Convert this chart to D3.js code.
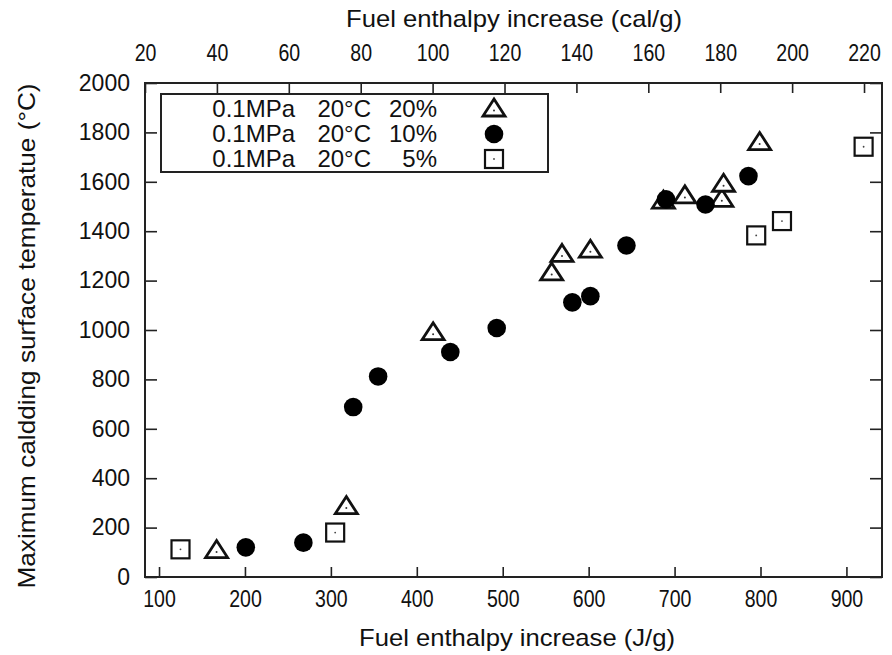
<!DOCTYPE html>
<html>
<head>
<meta charset="utf-8">
<script src="https://cdn.jsdelivr.net/npm/d3@7"></script>
<style>
  body { margin: 0; background: #fff; }
  text { font-family: "Liberation Sans", Arial, sans-serif; fill: #111; }
</style>
</head>
<body>
<div id="chart"></div>
<script>
// data (J/g, deg C)
var tri20J  = [167, 318, 419, 557, 569, 602, 687, 712, 755, 757, 799];
var tri20T  = [107, 285, 989, 1231, 1306, 1323, 1522, 1543, 1529, 1590, 1759];
var circ10J = [201, 268, 326, 355, 439, 493, 581, 602, 644, 690, 736, 786];
var circ10T = [120, 139, 688, 812, 911, 1008, 1112, 1137, 1342, 1529, 1508, 1623];
var sq5J    = [125, 305, 795, 825, 920];
var sq5T    = [112, 180, 1383, 1441, 1742];

var xTicks   = [100, 200, 300, 400, 500, 600, 700, 800, 900];
var calTicks = [20, 40, 60, 80, 100, 120, 140, 160, 180, 200, 220];
var yTicks   = [0, 200, 400, 600, 800, 1000, 1200, 1400, 1600, 1800, 2000];
var legendLabels = [["0.1MPa", "20\u00b0C", "20%"], ["0.1MPa", "20\u00b0C", "10%"], ["0.1MPa", "20\u00b0C", "5%"]];

var CAL = 4.184;

var margin = {top: 83, right: 10, bottom: 78, left: 145};
var width = 892 - margin.left - margin.right;
var height = 655 - margin.top - margin.bottom;

var svg = d3.select("#chart").append("svg")
  .attr("width", 892)
  .attr("height", 655);

var g = svg.append("g")
  .attr("transform", "translate(" + margin.left + "," + margin.top + ")");

var x = d3.scaleLinear().domain([20 * CAL, 225 * CAL]).range([0, width]);
var xc = d3.scaleLinear().domain([20, 225]).range([0, width]);
var y = d3.scaleLinear().domain([0, 2000]).range([height, 0]);

function styleAxis(sel) {
  sel.select(".domain").remove();
  sel.selectAll(".tick line").attr("stroke", "#222").attr("stroke-width", 1.6);
  sel.selectAll(".tick text").attr("font-size", "23px").attr("fill", "#111");
}

var xAxis = g.append("g")
  .attr("transform", "translate(0," + height + ")")
  .call(d3.axisBottom(x).tickValues(xTicks).tickSize(-10).tickPadding(14))
  .call(styleAxis);
xAxis.selectAll(".tick text").attr("transform", "scale(0.85,1)");

var xcAxis = g.append("g")
  .call(d3.axisTop(xc).tickValues(calTicks).tickSize(-10).tickPadding(22))
  .call(styleAxis);
xcAxis.selectAll(".tick text").attr("transform", "scale(0.85,1)");

g.append("g")
  .call(d3.axisLeft(y).tickValues(yTicks).tickSize(-12).tickPadding(15).tickFormat(d3.format("d")))
  .call(styleAxis);

g.append("g")
  .attr("transform", "translate(" + width + ",0)")
  .call(d3.axisRight(y).tickValues(yTicks).tickSize(-12).tickFormat(""))
  .call(styleAxis);

g.append("rect")
  .attr("width", width)
  .attr("height", height)
  .attr("fill", "none")
  .attr("stroke", "#222")
  .attr("stroke-width", 2);

// axis titles
svg.append("text")
  .attr("x", 514).attr("y", 27)
  .attr("text-anchor", "middle")
  .attr("font-size", "24px")
  .attr("textLength", 336).attr("lengthAdjust", "spacingAndGlyphs")
  .text("Fuel enthalpy increase (cal/g)");

svg.append("text")
  .attr("x", 517).attr("y", 646)
  .attr("text-anchor", "middle")
  .attr("font-size", "24px")
  .attr("textLength", 316).attr("lengthAdjust", "spacingAndGlyphs")
  .text("Fuel enthalpy increase (J/g)");

svg.append("text")
  .attr("transform", "translate(35,336) rotate(-90)")
  .attr("text-anchor", "middle")
  .attr("font-size", "24px")
  .attr("textLength", 505).attr("lengthAdjust", "spacingAndGlyphs")
  .text("Maximum caldding surface temperatue (\u00b0C)");

// markers
var triPath = "M0,-10L11,7L-11,7Z";

function drawTri(sel) {
  sel.append("path").attr("d", triPath)
    .attr("fill", "#fff").attr("stroke", "#111").attr("stroke-width", 2.8)
    .attr("stroke-linejoin", "miter");
  sel.append("circle").attr("r", 1).attr("cy", 1.5).attr("fill", "#333");
}
function drawCirc(sel) {
  sel.append("circle").attr("r", 9.3).attr("fill", "#000");
}
function drawSq(sel) {
  sel.append("rect").attr("x", -9).attr("y", -9).attr("width", 18).attr("height", 18)
    .attr("fill", "#fff").attr("stroke", "#111").attr("stroke-width", 2.2);
  sel.append("circle").attr("r", 0.9).attr("fill", "#444");
}

var tri = tri20J.map(function(d, i) { return {j: d, t: tri20T[i]}; });
var circ = circ10J.map(function(d, i) { return {j: d, t: circ10T[i]}; });
var sq = sq5J.map(function(d, i) { return {j: d, t: sq5T[i]}; });

g.selectAll(".tri").data(tri).enter().append("g")
  .attr("class", "tri")
  .attr("transform", function(d) { return "translate(" + x(d.j) + "," + y(d.t) + ")"; })
  .call(drawTri);

g.selectAll(".circ").data(circ).enter().append("g")
  .attr("class", "circ")
  .attr("transform", function(d) { return "translate(" + x(d.j) + "," + y(d.t) + ")"; })
  .call(drawCirc);

g.selectAll(".sq").data(sq).enter().append("g")
  .attr("class", "sq")
  .attr("transform", function(d) { return "translate(" + x(d.j) + "," + y(d.t) + ")"; })
  .call(drawSq);

// legend
var legend = svg.append("g").attr("transform", "translate(161,94)");
legend.append("rect")
  .attr("width", 387).attr("height", 78)
  .attr("fill", "#fff").attr("stroke", "#222").attr("stroke-width", 2);

var drawers = [drawTri, drawCirc, drawSq];
legendLabels.forEach(function(lab, i) {
  var row = legend.append("g").attr("transform", "translate(0," + (14 + i * 25) + ")");
  row.append("text").attr("x", 134).attr("dy", "0.36em").attr("text-anchor", "end")
    .attr("font-size", "24px").text(lab[0]);
  row.append("text").attr("x", 210).attr("dy", "0.36em").attr("text-anchor", "end")
    .attr("font-size", "24px").text(lab[1]);
  row.append("text").attr("x", 276).attr("dy", "0.36em").attr("text-anchor", "end")
    .attr("font-size", "24px").text(lab[2]);
  row.append("g").attr("transform", "translate(333,1)").call(drawers[i]);
});
</script>
</body>
</html>
